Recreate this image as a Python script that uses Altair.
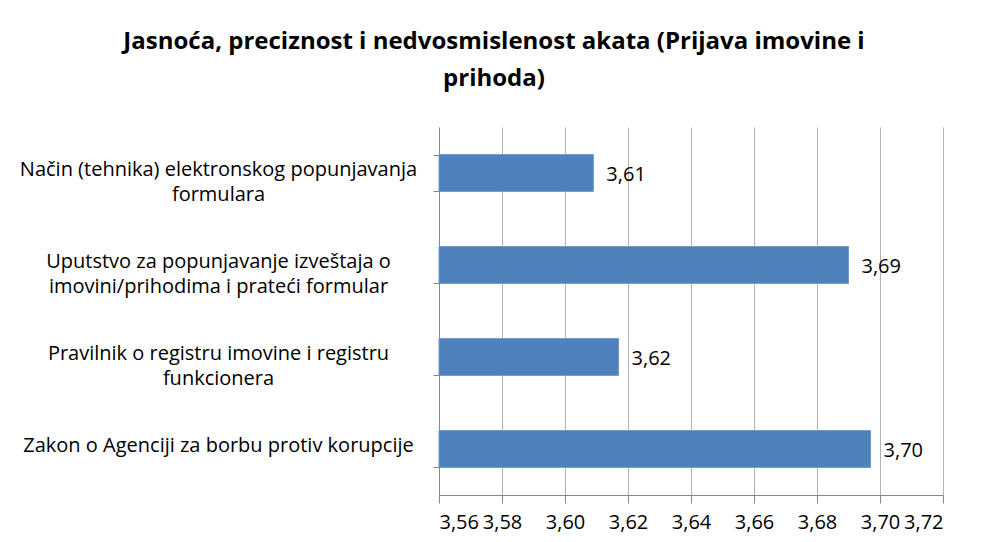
import altair as alt
import pandas as pd

title_lines = ["Jasnoća, preciznost i nedvosmislenost akata (Prijava imovine i", "prihoda)"]
categories = [
    "Način (tehnika) elektronskog popunjavanja\nformulara",
    "Uputstvo za popunjavanje izveštaja o\nimovini/prihodima i prateći formular",
    "Pravilnik o registru imovine i registru\nfunkcionera",
    "Zakon o Agenciji za borbu protiv korupcije",
]
values = [3.609, 3.690, 3.617, 3.697]
x_ticks = [3.56, 3.58, 3.60, 3.62, 3.64, 3.66, 3.68, 3.70, 3.72]

df = pd.DataFrame({"cat": categories, "val": values, "base": [x_ticks[0]] * len(values)})

FONT = "Open Sans"
FS = 20
W, H = 504, 368

xscale = alt.Scale(domain=[x_ticks[0], x_ticks[-1]], zero=False, nice=False)
yscale = alt.Scale(paddingInner=0.6, paddingOuter=0.3)

base = alt.Chart(df)

bars = base.mark_bar(color="#4F81BD", stroke="#6E97CB", strokeWidth=1).encode(
    x=alt.X("base:Q", scale=xscale, axis=alt.Axis(
        values=x_ticks, title=None, grid=True, gridColor="#B3B3B3", gridWidth=1,
        domainColor="#868686", tickColor="#868686", tickSize=8,
        labelExpr="replace(format(datum.value, '.2f'), '.', ',')",
        labelFont=FONT, labelFontSize=FS, labelColor="#000000", labelPadding=9,
    )),
    x2="val:Q",
    y=alt.Y("cat:N", sort=categories, scale=yscale, axis=alt.Axis(
        title=None, tickBand="extent", tickSize=6, tickColor="#868686",
        domainColor="#868686", labelExpr="split(datum.label, '\\n')",
        labelFont=FONT, labelFontSize=FS, labelColor="#000000",
        labelAlign="center", labelLineHeight=25, labelPadding=215,
        labelBaseline="alphabetic", labelOffset=2,
        labelLimit=0,
    )),
)

text = base.transform_calculate(
    lab="replace(format(datum.val, '.2f'), '.', ',')"
).mark_text(align="left", baseline="middle", dx=13, dy=2, font=FONT, fontSize=FS, color="#000000").encode(
    x=alt.X("val:Q", scale=xscale),
    y=alt.Y("cat:N", sort=categories, scale=yscale),
    text="lab:N",
)

chart = alt.layer(bars, text).properties(
    width=W, height=H,
    title=alt.TitleParams(
        text=title_lines, font=FONT, fontSize=24, fontWeight="bold", color="#000000",
        anchor="middle", frame="group", dx=-197, offset=20, lineHeight=37,
    ),
    autosize=alt.AutoSizeParams(type="none"),
    padding={"left": 431, "top": 119, "right": 30, "bottom": 44},
).configure(background="white").configure_view(stroke=None)

chart.save("out.html", embed_options={"renderer": "svg", "actions": False})
